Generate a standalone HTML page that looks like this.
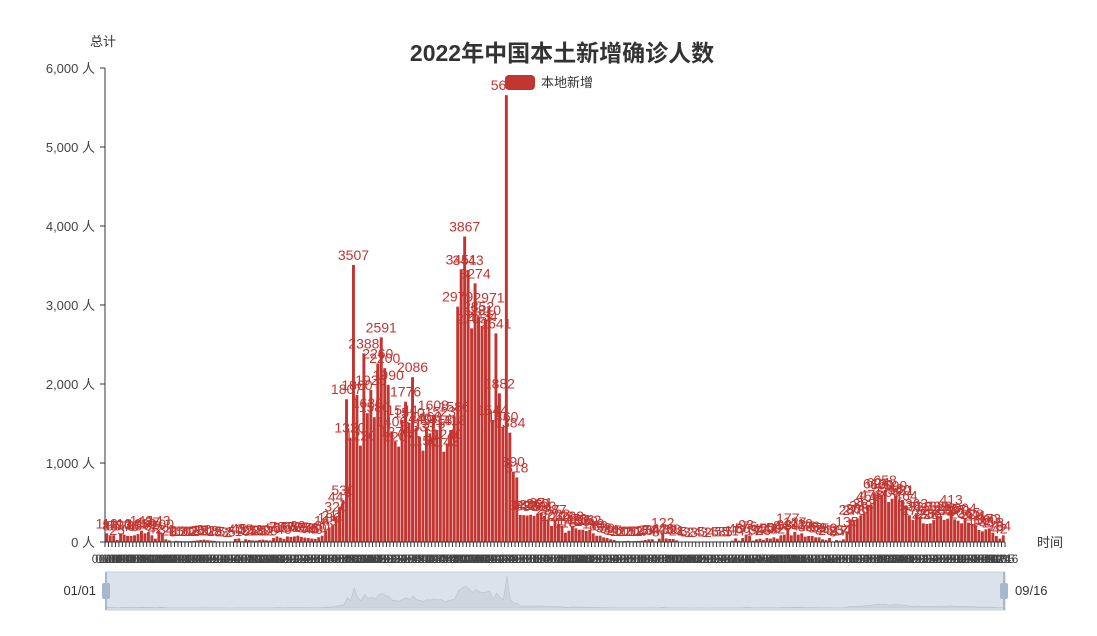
<!DOCTYPE html>
<html><head><meta charset="utf-8"><style>
body{margin:0;background:#fff;}
svg{display:block;font-family:"Liberation Sans","Noto Sans CJK SC",sans-serif;}
</style></head><body>
<svg id="chart" width="1097" height="636"></svg>
<script>
const seg1=[110,85,85,25,110,93,76,76,85,100,143,110,127,85,42,143,100,34,20,8,15,12,10,10,12,15,20,25,30,22,18,15,8,5,3,2,5,40,45,10,35,25,20,18,25,30,22,20,50,70,55,40,70,65,70,80,65,55,50,45,40,60,80,143,186,211];
const seg2=[320,447,530,1807,1320,3507,1860,1220,2388,1630,1925,1580,2260,2591,2200,1990,1400,1270,1207,1544,1776,1510,2086,1440,1333,1156,1460,1375,1608,1418,1523,1143,1240,1418,1586,2979,3451,3867,3443,2705,3274,2852,2734,2810,2971,1544,2641,1882,1460,5656,1384,890,818,342,340,335,345,330,360];
const seg3=[371,330,287,203,287,228,203,118,143,203,173,156,156,139,152,110,80,80,59,50,34,25,12,10,12,15,10,12,14,17,25,34,34,8,42,122,46,38,38,21,4,5,3,2,3,4,5,3,2,4,6,5,8,5,5,17,46,17,50,93,76,17,34,42,25,50,42,59,42];
const seg4=[84,93,177,84,127,93,110,68,76,76,59,59,34,25,50,8,25,17,34,135,287,278,300,338,363,456,473,616,624,600,658,506,548,590,540,531,464,338,278,363,320,236,228,236,278,329,329,278,295,413,287,270,236,304,245,228,211,152,135,160,173,118,76,42,84,68,68];
const values=seg1.concat(seg2,seg3,seg4).slice(0,259);
const yTicks=[0,1000,2000,3000,4000,5000,6000];
const startDate=new Date(2022,0,1);
const categories=values.map((v,i)=>{const d=new Date(startDate.getTime()+i*86400000);return String(d.getMonth()+1).padStart(2,'0')+'/'+String(d.getDate()).padStart(2,'0');});

const NS='http://www.w3.org/2000/svg';
const svg=document.getElementById('chart');
function mk(tag,attrs,parent,text){const e=document.createElementNS(NS,tag);for(const k in attrs)e.setAttribute(k,attrs[k]);if(text!==undefined)e.textContent=text;(parent||svg).appendChild(e);return e;}
const X0=105,X1=1005,Y0=542,Y1=68,YMAX=6000;
const n=values.length,bw=(X1-X0)/n;
const xc=i=>X0+(i+0.5)*bw;
const y=v=>Y0-(v/YMAX)*(Y0-Y1);

let t=mk('text',{x:562,y:61,'text-anchor':'middle','font-size':23,'font-weight':'bold',fill:'#333'},svg,'2022年中国本土新增确诊人数');

const lg=mk('g',{});
mk('rect',{x:505,y:75,width:30,height:15,rx:4,fill:'#c23531'},lg);
mk('text',{x:541,y:87,'font-size':13,fill:'#333'},lg,'本地新增');

t=mk('text',{x:90,y:46,'font-size':13,fill:'#333'},svg,'总计');
t=mk('text',{x:1037,y:547,'font-size':13,fill:'#333'},svg,'时间');

yTicks.forEach(v=>{
  const l=mk('text',{x:95,y:y(v)+5,'text-anchor':'end','font-size':13,fill:'#444'},svg,v.toLocaleString('en-US')+' 人');
  
  mk('line',{x1:X0-5,x2:X0,y1:y(v),y2:y(v),stroke:'#333'});
});
mk('line',{x1:X0,x2:X0,y1:Y1,y2:Y0,stroke:'#333'});

const bars=mk('g',{});
values.forEach((v,i)=>{
  const r=mk('rect',{x:xc(i)-bw*0.42,y:y(v),width:bw*0.84,height:Y0-y(v),fill:'#c23531'},bars);
  
  
});
const labs=mk('g',{});
values.forEach((v,i)=>{mk('text',{x:xc(i),y:y(v)-5,'text-anchor':'middle','font-size':14,fill:'#c23531'},labs,String(v));});

mk('line',{x1:X0,x2:X1,y1:Y0,y2:Y0,stroke:'#333'});
const xl=mk('g',{});
for(let i=0;i<=n;i++){mk('line',{x1:X0+i*bw,x2:X0+i*bw,y1:Y0,y2:Y0+5,stroke:'#333'});}
categories.forEach((c,i)=>{mk('text',{x:xc(i),y:563,'text-anchor':'middle','font-size':12,fill:'#444'},xl,c);});

// data zoom slider
const dz=mk('g',{});
mk('rect',{x:106,y:572,width:899,height:38,fill:'#dce2eb',stroke:'#c8d0dc'},dz);
let pts=values.map((v,i)=>(106+(i+0.5)*899/n)+','+(608-v/YMAX*34)).join(' ');
mk('polygon',{points:'106,608 '+pts+' 1005,608',fill:'#cfd5de',stroke:'#b8c0cb','stroke-width':0.6},dz);
[106,1004].forEach(hx=>{
  mk('line',{x1:hx,x2:hx,y1:572,y2:610,stroke:'#a7b7cc','stroke-width':2},dz);
  const h=mk('rect',{x:hx-4,y:583,width:8,height:16,rx:2,fill:'#a7b7cc'},dz);
  
});
t=mk('text',{x:96,y:595,'text-anchor':'end','font-size':13,fill:'#333'},svg,'01/01');
t=mk('text',{x:1015,y:595,'font-size':13,fill:'#333'},svg,'09/16');
</script>
</body></html>
